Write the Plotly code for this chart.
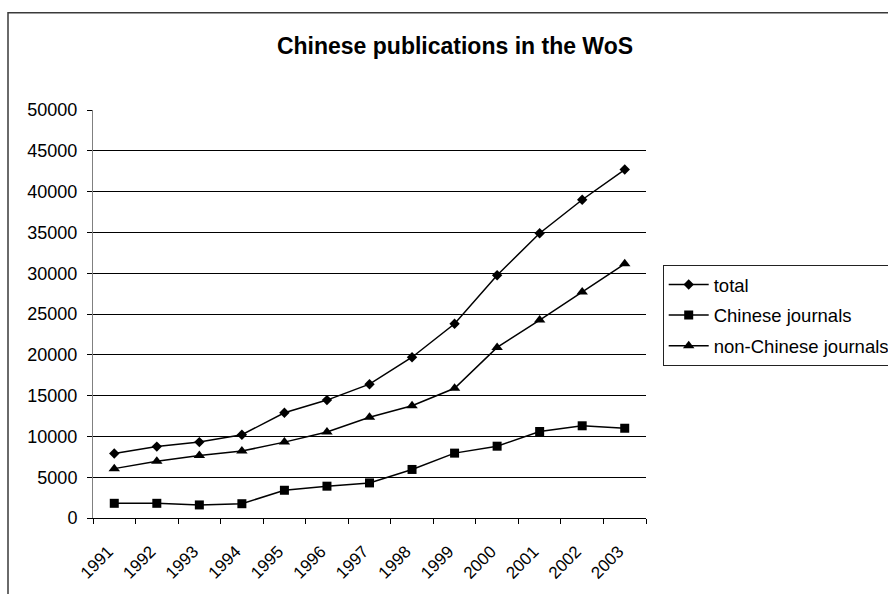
import plotly.graph_objects as go

years = ["1991", "1992", "1993", "1994", "1995", "1996", "1997",
         "1998", "1999", "2000", "2001", "2002", "2003"]
total = [7900, 8750, 9300, 10200, 12900, 14450, 16400,
         19700, 23800, 29750, 34900, 39000, 42700]
chinese_journals = [1800, 1800, 1600, 1750, 3400, 3900, 4300,
                    5950, 7950, 8800, 10600, 11300, 11000]
non_chinese_journals = [6050, 6950, 7650, 8200, 9300, 10550, 12350,
                        13750, 15900, 20900, 24250, 27700, 31150]
y_ticks = [0, 5000, 10000, 15000, 20000, 25000, 30000, 35000, 40000, 45000, 50000]

W, H = 888, 594
L, R, T, B = 93, 242, 110, 76
pw, ph = W - L - R, H - T - B

FONT = "Liberation Sans, Arial, sans-serif"

fig = go.Figure()
series = [
    ("total", total, "diamond", 8),
    ("Chinese journals", chinese_journals, "square", 9),
    ("non-Chinese journals", non_chinese_journals, "triangle-up", 10),
]
for i, (name, vals, sym, sz) in enumerate(series):
    fig.add_trace(go.Scatter(
        x=years, y=vals, name=name, mode="lines+markers",
        line=dict(color="black", width=1.5),
        marker=dict(symbol=sym, size=sz, color="black"),
        legendgroup=f"g{i}",
    ))

def px_x(p):
    return (p - L) / pw

def px_y(p):
    return (H - B - p) / ph

fig.add_shape(type="rect", xref="paper", yref="paper",
              x0=px_x(8), x1=px_x(960), y0=px_y(640), y1=px_y(12.7),
              line=dict(color="#3a3a3a", width=1.5), fillcolor="rgba(0,0,0,0)",
              layer="below")

fig.update_layout(
    width=W, height=H,
    margin=dict(l=L, r=R, t=T, b=B, autoexpand=False),
    paper_bgcolor="white", plot_bgcolor="white",
    font=dict(family=FONT, color="black", size=18),
    title=dict(text="<b>Chinese publications in the WoS</b>",
               font=dict(family=FONT, size=23, color="black"),
               xref="container", x=455 / W, xanchor="center",
               yref="container", y=1 - 45.5 / H, yanchor="middle"),
    showlegend=True,
    legend=dict(
        xref="container", x=662.7 / W, xanchor="left",
        yref="container", y=1 - 265 / H, yanchor="top",
        bordercolor="#222222", borderwidth=1, bgcolor="white",
        font=dict(family=FONT, size=18.5, color="black"),
        traceorder="grouped", tracegroupgap=3.5, itemwidth=40,
    ),
    xaxis=dict(
        type="category", range=[-0.5, 12.5],
        showline=True, linecolor="black", linewidth=1,
        ticks="outside", tickson="boundaries", ticklen=5, tickcolor="black",
        tickangle=-45, showgrid=False, zeroline=False,
        tickfont=dict(family=FONT, size=17, color="black"),
        ticklabelstandoff=16, ticklabelshift=-6,
    ),
    yaxis=dict(
        range=[0, 50000], tickvals=y_ticks,
        ticktext=[str(v) for v in y_ticks],
        showline=True, linecolor="#808080", linewidth=1,
        ticks="outside", ticklen=5, tickcolor="black",
        showgrid=True, gridcolor="black", gridwidth=1, zeroline=False,
        tickfont=dict(family=FONT, size=18, color="black"),
        ticklabelstandoff=6,
    ),
)

fig.write_html("out.html")
